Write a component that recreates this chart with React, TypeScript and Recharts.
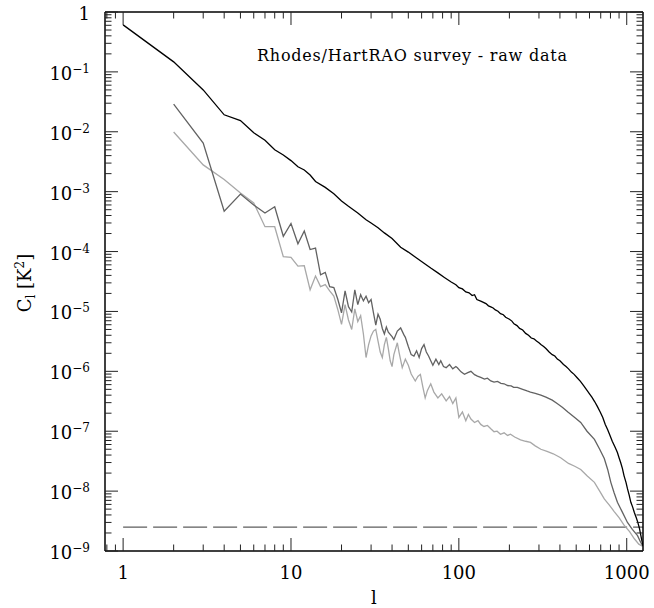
import { LineChart, Line, XAxis, YAxis, ReferenceLine } from 'recharts';

// [l, C_l] pairs
const rawSpectrum: [number, number][] = [
  [1, 6.1e-1], [2, 1.47e-1], [3, 5.0e-2], [4, 1.92e-2], [5, 1.54e-2], [6, 9.6e-3], [7, 7.2e-3],
  [8, 5.0e-3], [9, 4.1e-3], [10, 3.3e-3], [11, 2.6e-3], [12, 2.3e-3], [13, 1.9e-3], [14, 1.48e-3],
  [16, 1.18e-3], [18, 9.2e-4], [20, 7.0e-4], [22, 5.7e-4], [25, 4.4e-4], [28, 3.4e-4], [30, 3.0e-4],
  [33, 2.5e-4], [36, 2.05e-4], [40, 1.65e-4], [45, 1.18e-4], [50, 9.8e-5], [56, 7.8e-5], [62, 6.4e-5],
  [68, 5.3e-5], [75, 4.4e-5], [82, 3.7e-5], [90, 3.1e-5], [96, 2.8e-5], [100, 2.5e-5], [105, 2.38e-5],
  [110, 2.12e-5], [115, 2.05e-5], [120, 1.84e-5], [124, 1.9e-5], [128, 1.58e-5], [135, 1.49e-5],
  [140, 1.42e-5], [145, 1.35e-5], [150, 1.24e-5], [155, 1.19e-5], [160, 1.14e-5], [165, 1.06e-5],
  [171, 1.01e-5], [177, 9.2e-6], [184, 8.8e-6], [190, 8.0e-6], [200, 7.4e-6], [207, 6.9e-6],
  [213, 6.2e-6], [222, 5.8e-6], [230, 5.2e-6], [240, 4.9e-6], [250, 4.3e-6], [260, 4.0e-6],
  [270, 3.6e-6], [280, 3.5e-6], [290, 3.2e-6], [300, 3.0e-6], [308, 2.8e-6], [320, 2.6e-6],
  [330, 2.4e-6], [345, 2.1e-6], [360, 1.9e-6], [373, 1.8e-6], [386, 1.6e-6], [400, 1.5e-6],
  [420, 1.3e-6], [435, 1.2e-6], [450, 1.1e-6], [468, 9.7e-7], [486, 8.9e-7], [505, 7.9e-7],
  [530, 6.8e-7], [555, 5.7e-7], [583, 4.7e-7], [600, 4.2e-7], [620, 3.7e-7], [645, 3.1e-7],
  [668, 2.6e-7], [695, 2.1e-7], [720, 1.7e-7], [745, 1.3e-7], [769, 1.07e-7], [795, 8.5e-8],
  [820, 6.8e-8], [850, 5.5e-8], [880, 4.4e-8], [900, 3.6e-8], [920, 3.0e-8], [942, 2.4e-8],
  [964, 1.8e-8], [990, 1.4e-8], [1010, 1.1e-8], [1035, 8.5e-9], [1058, 6.5e-9], [1085, 5.4e-9],
  [1110, 4.4e-9], [1140, 3.6e-9], [1164, 3.0e-9], [1190, 2.4e-9], [1210, 1.9e-9], [1230, 1.5e-9],
  [1250, 1.23e-9],
];

const midSpectrum: [number, number][] = [
  [2, 2.9e-2], [3, 6.5e-3], [4, 4.7e-4], [5, 9.1e-4], [6, 6.0e-4], [7, 4.4e-4], [8, 5.6e-4],
  [9, 1.8e-4], [10, 2.95e-4], [11, 1.35e-4], [12, 2.2e-4], [13, 1.08e-4], [14, 1.14e-4], [15, 4.1e-5],
  [16, 4.5e-5], [17, 2.6e-5], [18, 2.5e-5], [19, 1.6e-5], [20, 9.5e-6], [21, 2.2e-5], [22, 1.2e-5],
  [23, 9.8e-6], [24, 2.3e-5], [25, 1.3e-5], [26, 1.9e-5], [27, 1.5e-5], [28, 1.8e-5], [29, 1.4e-5],
  [30, 1.58e-5], [31, 9.5e-6], [32, 5.9e-6], [33, 9.0e-6], [34, 7.4e-6], [35, 5.2e-6], [36, 4.2e-6],
  [37, 5.5e-6], [38, 4.5e-6], [40, 3.8e-6], [41, 3.4e-6], [43, 4.7e-6], [45, 5.3e-6], [47, 4.1e-6],
  [48, 3.7e-6], [50, 2.6e-6], [52, 1.9e-6], [54, 1.8e-6], [56, 2.2e-6], [58, 1.7e-6], [60, 2.4e-6],
  [62, 2.8e-6], [64, 2.1e-6], [66, 1.8e-6], [68, 1.5e-6], [70, 1.26e-6], [73, 1.6e-6], [76, 1.3e-6],
  [78, 1.5e-6], [81, 1.2e-6], [84, 1.15e-6], [88, 1.3e-6], [92, 1.1e-6], [96, 1.2e-6], [98, 1.15e-6],
  [103, 9.8e-7], [108, 8.9e-7], [113, 9.5e-7], [118, 1.0e-6], [124, 8.8e-7], [129, 8.3e-7],
  [135, 7.9e-7], [142, 7.4e-7], [148, 7.7e-7], [155, 6.9e-7], [162, 6.6e-7], [170, 6.8e-7],
  [178, 6.3e-7], [186, 6.2e-7], [195, 5.8e-7], [205, 5.7e-7], [212, 5.4e-7], [223, 5.4e-7],
  [240, 5.0e-7], [255, 4.7e-7], [267, 4.5e-7], [285, 4.3e-7], [308, 4.0e-7], [330, 3.7e-7],
  [360, 3.3e-7], [385, 2.9e-7], [415, 2.5e-7], [446, 2.1e-7], [490, 1.7e-7], [532, 1.4e-7],
  [580, 1.0e-7], [642, 7.3e-8], [690, 5.0e-8], [735, 3.5e-8], [770, 2.3e-8], [804, 1.4e-8],
  [840, 9.5e-9], [880, 6.5e-9], [940, 4.5e-9], [1010, 3.0e-9], [1080, 2.3e-9], [1160, 1.8e-9],
  [1210, 1.4e-9], [1250, 1.2e-9],
];

const lowSpectrum: [number, number][] = [
  [2, 9.9e-3], [3, 2.8e-3], [4, 1.6e-3], [5, 9.5e-4], [6, 6.5e-4], [7, 2.6e-4], [8, 2.6e-4],
  [9, 8.2e-5], [10, 8.0e-5], [11, 5.7e-5], [12, 5.8e-5], [13, 2.3e-5], [14, 3.9e-5], [15, 2.6e-5],
  [16, 2.8e-5], [17, 2.2e-5], [18, 1.8e-5], [19, 1.08e-5], [20, 6.1e-6], [21, 1.3e-5], [22, 7.2e-6],
  [23, 5.0e-6], [24, 1.1e-5], [25, 6.8e-6], [26, 8.5e-6], [27, 4.2e-6], [28, 1.7e-6], [29, 2.8e-6],
  [30, 3.9e-6], [31, 4.7e-6], [32, 5.0e-6], [33, 3.2e-6], [34, 2.1e-6], [35, 1.7e-6], [36, 2.8e-6],
  [37, 3.7e-6], [38, 2.4e-6], [39, 1.5e-6], [40, 1.2e-6], [41, 1.9e-6], [43, 3.0e-6], [44, 2.1e-6],
  [46, 1.15e-6], [48, 1.6e-6], [50, 1.26e-6], [52, 9.0e-7], [55, 6.9e-7], [57, 8.2e-7], [59, 8.9e-7],
  [61, 5.5e-7], [63, 3.6e-7], [65, 4.8e-7], [68, 6.2e-7], [71, 4.5e-7], [75, 3.6e-7], [79, 4.2e-7],
  [84, 3.2e-7], [88, 3.8e-7], [92, 2.9e-7], [96, 3.6e-7], [100, 1.7e-7], [105, 2.1e-7], [110, 1.5e-7],
  [114, 1.9e-7], [118, 1.6e-7], [124, 1.4e-7], [130, 1.5e-7], [135, 1.3e-7], [141, 1.2e-7],
  [148, 1.25e-7], [155, 1.1e-7], [162, 9.8e-8], [169, 1.0e-7], [177, 8.9e-8], [186, 9.4e-8],
  [195, 8.5e-8], [203, 8.9e-8], [215, 8.0e-8], [233, 7.2e-8], [250, 6.8e-8], [267, 6.5e-8],
  [285, 5.7e-8], [308, 5.0e-8], [335, 4.6e-8], [365, 4.2e-8], [404, 3.6e-8], [450, 2.9e-8],
  [490, 2.6e-8], [532, 2.3e-8], [580, 1.8e-8], [642, 1.4e-8], [690, 1.0e-8], [735, 7.4e-9],
  [790, 5.8e-9], [840, 4.6e-9], [900, 3.6e-9], [964, 2.7e-9], [1040, 2.1e-9], [1110, 1.6e-9],
  [1180, 1.3e-9], [1240, 1.2e-9],
];

const noiseLevel: [number, number][] = [[1, 2.5e-9], [1250, 2.5e-9]];

const xDomain = [0.78, 1250];
const yDomain = [1e-9, 1];
const xTicks = [
  0.8, 0.9, 1, 2, 3, 4, 5, 6, 7, 8, 9, 10, 20, 30, 40, 50, 60, 70, 80, 90,
  100, 200, 300, 400, 500, 600, 700, 800, 900, 1000,
];
const yDecades = [1e-9, 1e-8, 1e-7, 1e-6, 1e-5, 1e-4, 1e-3, 1e-2, 1e-1, 1];
const yMinorSteps = [2, 3, 4, 5, 6, 7, 8, 9];
const yTicks = yDecades.flatMap((d) => (d < 1 ? [d, ...yMinorSteps.map((m) => m * d)] : [d]));

const toRows = (pairs: [number, number][]) => pairs.map(([l, c]) => ({ l, c }));

const FONT = 'DejaVu Serif';
const TICK_COLOR = '#222';

const isDecade = (v: number) => Math.abs(Math.log10(v) - Math.round(Math.log10(v))) < 1e-6;

function AxisTick(props: any) {
  const { x, y, payload, side } = props;
  const v = payload.value;
  const major = isDecade(v);
  const len = major ? 13 : 6.5;
  const dx = side === 'left' ? len : side === 'right' ? -len : 0;
  const dy = side === 'bottom' ? -len : side === 'top' ? len : 0;
  const exp = Math.round(Math.log10(v));
  return (
    <g>
      <path d={`M${x},${y}L${x + dx},${y + dy}`} stroke={TICK_COLOR} strokeWidth={1} fill="none" />
      {major && side === 'bottom' && (
        <text x={x} y={y + 28} textAnchor="middle" fontFamily={FONT} fontSize={18} fill="#000">
          {String(Math.round(v))}
        </text>
      )}
      {major && side === 'left' && exp === 0 && (
        <text x={x - 15} y={y + 8} textAnchor="end" fontFamily={FONT} fontSize={18} fill="#000">
          1
        </text>
      )}
      {major && side === 'left' && exp !== 0 && (
        <text x={x - 15} y={y + 8} textAnchor="end" fontFamily={FONT} fontSize={18} fill="#000">
          <tspan>10</tspan>
          <tspan dy={-7} fontSize={12}>{'\u2212' + Math.abs(exp)}</tspan>
        </text>
      )}
    </g>
  );
}

const axisLine = { stroke: '#000', strokeWidth: 1.5 };

const xTitle = ({ viewBox }: any) => (
  <text x={viewBox.x + viewBox.width / 2} y={viewBox.y + 53} textAnchor="middle" fontFamily={FONT} fontSize={18} fill="#000">
    l
  </text>
);

const plotTitle = ({ viewBox }: any) => (
  <text x={viewBox.x + 152} y={viewBox.y + 50} fontFamily={FONT} fontSize={16} textLength={310} fill="#000">
    Rhodes/HartRAO survey - raw data
  </text>
);

const yTitle = ({ viewBox }: any) => {
  const cx = viewBox.x + 23;
  const cy = viewBox.y + 271;
  return (
    <text x={cx} y={cy} transform={`rotate(-90 ${cx} ${cy})`} textAnchor="middle" fontFamily={FONT} fontSize={18} fill="#000">
      C<tspan dy={4} fontSize={12}>l</tspan>
      <tspan dy={-4}>{'  [K'}</tspan>
      <tspan dy={-7} fontSize={12}>2</tspan>
      <tspan dy={7}>]</tspan>
    </text>
  );
};

export default function App() {
  return (
    <div style={{ position: 'absolute', left: 0, top: 0, width: 654, height: 608, background: '#fff' }}>
      <LineChart width={654} height={608} margin={{ top: 11, right: 10, bottom: 12, left: 8 }}>
        <XAxis dataKey="l" type="number" scale="log" domain={xDomain} allowDataOverflow ticks={xTicks} interval={0} height={45} tickSize={0} tickMargin={0} tickLine={false} axisLine={axisLine} tick={(p: any) => <AxisTick {...p} side="bottom" />} label={xTitle} />
        <XAxis xAxisId="top" orientation="top" dataKey="l" type="number" scale="log" domain={xDomain} allowDataOverflow ticks={xTicks} interval={0} height={1} tickSize={0} tickMargin={0} tickLine={false} axisLine={axisLine} tick={(p: any) => <AxisTick {...p} side="top" />} label={plotTitle} />
        <YAxis type="number" scale="log" domain={yDomain} allowDataOverflow ticks={yTicks} interval={0} width={97} tickSize={0} tickMargin={0} tickLine={false} axisLine={axisLine} tick={(p: any) => <AxisTick {...p} side="left" />} label={yTitle} />
        <YAxis yAxisId="right" orientation="right" type="number" scale="log" domain={yDomain} allowDataOverflow ticks={yTicks} interval={0} width={1} tickSize={0} tickMargin={0} tickLine={false} axisLine={axisLine} tick={(p: any) => <AxisTick {...p} side="right" />} />
        <Line data={toRows(noiseLevel)} dataKey="c" stroke="#5e5e5e" strokeWidth={1.2} strokeDasharray="24 6" dot={false} isAnimationActive={false} />
        <Line data={toRows(lowSpectrum)} dataKey="c" stroke="#a8a8a8" strokeWidth={1.3} dot={false} isAnimationActive={false} />
        <Line data={toRows(midSpectrum)} dataKey="c" stroke="#626262" strokeWidth={1.3} dot={false} isAnimationActive={false} />
        <Line data={toRows(rawSpectrum)} dataKey="c" stroke="#000" strokeWidth={1.3} dot={false} isAnimationActive={false} />
        {xTicks.map((v) => (
          <ReferenceLine key={`b${v}`} segment={[{ x: v, y: yDomain[0] }, { x: v, y: yDomain[0] }]} stroke="none" ifOverflow="visible" />
        ))}
      </LineChart>
    </div>
  );
}
